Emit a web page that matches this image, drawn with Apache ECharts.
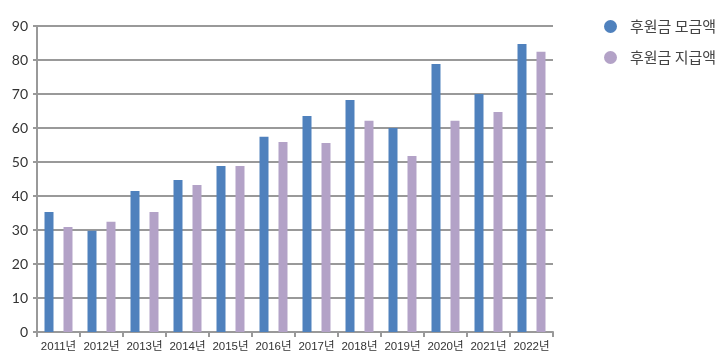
<!DOCTYPE html>
<html><head><meta charset="utf-8">
<script src="https://cdn.jsdelivr.net/npm/echarts@6/dist/echarts.min.js"></script>
<style>html,body{margin:0;padding:0;background:#fff}#c{width:717px;height:359px}</style>
</head><body><div id="c"></div>
<script>
const categories = ['2011년','2012년','2013년','2014년','2015년','2016년','2017년','2018년','2019년','2020년','2021년','2022년'];
const raised = [35.3, 29.8, 41.5, 44.7, 48.8, 57.4, 63.5, 68.2, 60.0, 78.8, 70.0, 84.7];
const paid = [30.9, 32.4, 35.3, 43.2, 48.8, 55.9, 55.6, 62.1, 51.8, 62.1, 64.7, 82.4];
const seriesNames = ['후원금 모금액','후원금 지급액'];
const chart = echarts.init(document.getElementById('c'), null, {renderer:'canvas'});
chart.setOption({
  animation:false,
  color:['#4F81BD','#B3A2C7'],
  grid:{left:37, right:164, top:26, bottom:27, containLabel:false},
  legend:{
    orient:'vertical', left:599, top:14, icon:'circle', itemWidth:13, itemHeight:13, itemGap:16,
    textStyle:{fontFamily:'Noto Sans CJK KR', fontSize:15, color:'#444', padding:[0,0,0,8]},
    data:seriesNames
  },
  xAxis:{
    type:'category', data:categories,
    axisLine:{lineStyle:{color:'#999', width:2}},
    axisTick:{show:true, length:5, lineStyle:{color:'#999', width:2}},
    axisLabel:{interval:0, fontFamily:'Liberation Sans, Noto Sans CJK KR', fontSize:11.5, color:'#333', margin:9}
  },
  yAxis:{
    type:'value', min:0, max:90, interval:10,
    axisLine:{show:true, lineStyle:{color:'#999', width:2}},
    axisTick:{show:true, length:4, lineStyle:{color:'#999', width:2}},
    splitLine:{lineStyle:{color:'#999', width:2}},
    axisLabel:{fontFamily:'Lato', fontSize:14, color:'#333', margin:9}
  },
  series:[
    {name:seriesNames[0], type:'bar', data:raised, barWidth:9, barGap:'111%'},
    {name:seriesNames[1], type:'bar', data:paid, barWidth:9, barGap:'111%'}
  ]
});
</script></body></html>
